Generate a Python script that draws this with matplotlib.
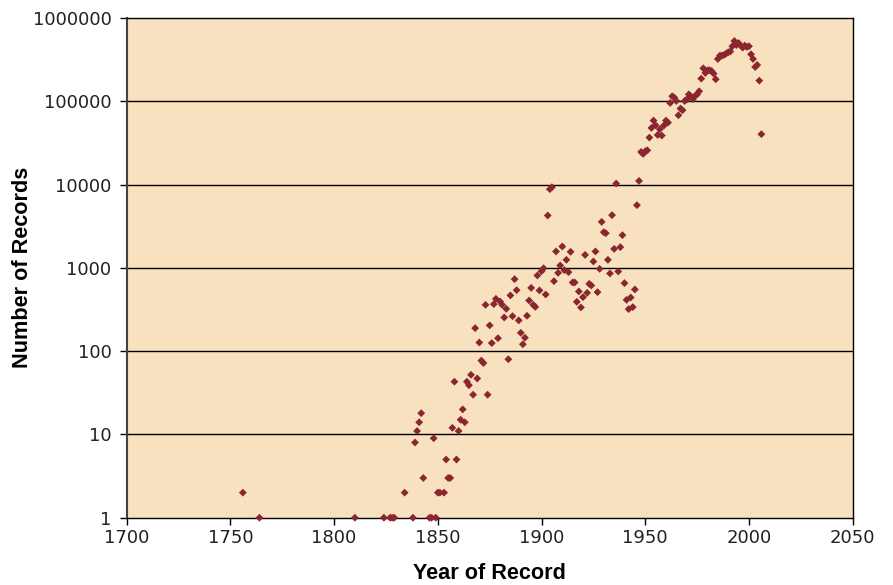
import matplotlib
matplotlib.use("Agg")
import matplotlib.pyplot as plt
from matplotlib.ticker import FixedLocator, FixedFormatter, NullLocator

years = [1756, 1764, 1810, 1824, 1827, 1828, 1829, 1834, 1838, 1839,
         1840, 1841, 1842, 1843, 1846, 1847, 1848, 1849, 1850, 1851,
         1853, 1854, 1855, 1856, 1857, 1858, 1859, 1860, 1861, 1862,
         1863, 1864, 1865, 1866, 1867, 1868, 1869, 1870, 1871, 1872,
         1873, 1874, 1875, 1876, 1877, 1878, 1879, 1880, 1881, 1882,
         1883, 1884, 1885, 1886, 1887, 1888, 1889, 1890, 1891, 1892,
         1893, 1894, 1895, 1896, 1897, 1898, 1899, 1900, 1901, 1902,
         1903, 1904, 1905, 1906, 1907, 1908, 1909, 1910, 1911, 1912,
         1913, 1914, 1915, 1916, 1917, 1918, 1919, 1920, 1921, 1922,
         1923, 1924, 1925, 1926, 1927, 1928, 1929, 1930, 1931, 1932,
         1933, 1934, 1935, 1936, 1937, 1938, 1939, 1940, 1941, 1942,
         1943, 1944, 1945, 1946, 1947, 1948, 1949, 1950, 1951, 1952,
         1953, 1954, 1955, 1956, 1957, 1958, 1959, 1960, 1961, 1962,
         1963, 1964, 1965, 1966, 1967, 1968, 1969, 1970, 1971, 1972,
         1973, 1974, 1975, 1976, 1977, 1978, 1979, 1980, 1981, 1982,
         1983, 1984, 1985, 1986, 1987, 1988, 1989, 1990, 1991, 1992,
         1993, 1994, 1995, 1996, 1997, 1998, 1999, 2000, 2001, 2002,
         2003, 2004, 2005, 2006]

records = [2, 1, 1, 1, 1, 1, 1, 2, 1, 8,
           11, 14, 18, 3, 1, 1, 9, 1, 2, 2,
           2, 5, 3, 3, 12, 43, 5, 11, 15, 20,
           14, 43, 39, 52, 30, 189, 47, 127, 77, 72,
           360, 30, 204, 125, 367, 425, 143, 395, 360, 254,
           322, 80, 467, 263, 731, 540, 234, 166, 121, 145,
           266, 406, 575, 360, 340, 811, 536, 913, 990, 479,
           4256, 8810, 9300, 693, 1574, 871, 1069, 1806, 939, 1249,
           889, 1558, 668, 668, 391, 521, 335, 445, 1432, 501,
           643, 615, 1194, 1574, 511, 973, 3570, 2683, 2610, 1249,
           857, 4295, 1690, 10300, 906, 1774, 2472, 656, 413, 320,
           441, 338, 551, 5660, 11070, 24660, 23330, 25140, 25800, 36700,
           47900, 58700, 51600, 39400, 46200, 38800, 51200, 58700, 55600, 95500,
           115000, 111000, 101000, 68000, 81900, 78200, 101000, 105000, 121000, 115000,
           106000, 116000, 121000, 132000, 187000, 249000, 219000, 236000, 236000, 231000,
           215000, 184000, 322000, 354000, 354000, 360000, 374000, 388000, 396000, 458000,
           530000, 474000, 501000, 467000, 441000, 467000, 449000, 458000, 367000, 322000,
           258000, 273000, 177000, 40300]

x_ticks = [1700, 1750, 1800, 1850, 1900, 1950, 2000, 2050]
y_ticks = [1, 10, 100, 1000, 10000, 100000, 1000000]
y_tick_labels = ["1", "10", "100", "1000", "10000", "100000", "1000000"]

fig = plt.figure(figsize=(8.93, 5.85), dpi=100)
ax = fig.add_axes([0.1419, 0.115, 0.8129, 0.8542])
ax.set_facecolor("#F7E1BE")

ax.set_yscale("log")
ax.set_xlim(1700, 2050)
ax.set_ylim(1, 1000000)

for v in y_ticks[1:-1]:
    ax.axhline(v, color="black", lw=1.0, zorder=1)

ax.scatter(years, records, marker="D", s=16, color="#8B2530",
           edgecolors="none", zorder=3, clip_on=False)

ax.xaxis.set_major_locator(FixedLocator(x_ticks))
ax.yaxis.set_major_locator(FixedLocator(y_ticks))
ax.yaxis.set_major_formatter(FixedFormatter(y_tick_labels))
ax.yaxis.set_minor_locator(NullLocator())
ax.xaxis.set_minor_locator(NullLocator())

ax.tick_params(axis="both", direction="out", length=5, width=1.0,
               labelsize=13, colors="black", labelcolor="#222222")
ax.tick_params(axis="y", pad=6)
ax.tick_params(axis="x", pad=3)

for sp in ax.spines.values():
    sp.set_color("black")
    sp.set_linewidth(1.0)
ax.spines["left"].set_color("#4a4038")
ax.spines["left"].set_linewidth(1.5)

lab_font = dict(family=["Liberation Sans", "DejaVu Sans"], weight="bold", size=15.6)
ax.set_xlabel("Year of Record", labelpad=11.5, **lab_font)
ax.set_ylabel("Number of Records", labelpad=0, **lab_font)

fig.savefig("out.png", dpi=100)
